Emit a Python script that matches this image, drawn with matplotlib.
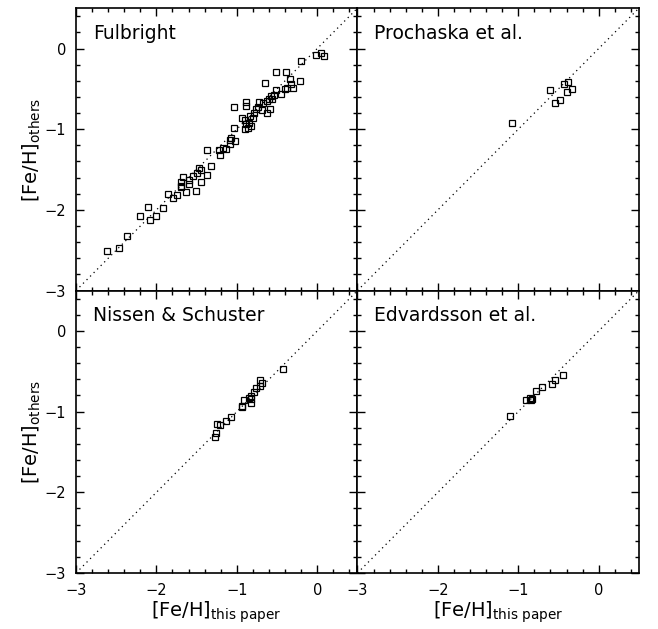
import matplotlib
matplotlib.use("Agg")
import matplotlib.pyplot as plt
import numpy as np
from matplotlib.ticker import MultipleLocator

# Fulbright
ful_x = [-2.61, -2.47, -2.37, -2.21, -2.10, -2.08, -2.01, -1.92, -1.86, -1.79,
         -1.74, -1.69, -1.67, -1.69, -1.69, -1.63, -1.60, -1.59, -1.54, -1.51,
         -1.49, -1.47, -1.45, -1.44, -1.37, -1.32, -1.37, -1.22, -1.21, -1.17,
         -1.14, -1.09, -1.07, -1.08, -1.02, -1.04, -1.03, -0.93, -0.88, -0.88,
         -0.90, -0.89, -0.90, -0.86, -0.85, -0.83, -0.84, -0.80, -0.79, -0.76,
         -0.74, -0.73, -0.69, -0.68, -0.65, -0.63, -0.62, -0.59, -0.60, -0.58,
         -0.56, -0.54, -0.51, -0.51, -0.45, -0.39, -0.40, -0.37, -0.34, -0.33,
         -0.30, -0.21, -0.20, -0.02, 0.05, 0.08]
ful_y = [-2.51, -2.47, -2.32, -2.08, -1.96, -2.13, -2.08, -1.98, -1.80, -1.85,
         -1.81, -1.70, -1.59, -1.65, -1.71, -1.78, -1.63, -1.68, -1.58, -1.76,
         -1.54, -1.48, -1.51, -1.66, -1.57, -1.46, -1.26, -1.26, -1.32, -1.23,
         -1.25, -1.13, -1.11, -1.18, -1.14, -0.98, -0.72, -0.86, -0.66, -0.71,
         -0.89, -0.94, -1.00, -0.98, -0.92, -0.96, -0.84, -0.86, -0.80, -0.75,
         -0.72, -0.66, -0.76, -0.68, -0.43, -0.80, -0.65, -0.75, -0.63, -0.59,
         -0.63, -0.58, -0.29, -0.52, -0.56, -0.29, -0.50, -0.49, -0.38, -0.44,
         -0.49, -0.40, -0.16, -0.08, -0.05, -0.09]

# Prochaska et al.
pro_x = [-1.08, -0.60, -0.43, -0.38, -0.33, -0.39, -0.54, -0.48]
pro_y = [-0.92, -0.52, -0.44, -0.42, -0.50, -0.54, -0.67, -0.64]

# Nissen & Schuster
nis_x = [-0.42, -0.71, -0.69, -0.71, -0.76, -0.79, -0.83, -0.83, -0.85, -0.91,
         -0.82, -0.93, -0.94, -1.07, -1.14, -1.21, -1.25, -1.26, -1.27]
nis_y = [-0.47, -0.61, -0.65, -0.68, -0.71, -0.76, -0.81, -0.84, -0.83, -0.85,
         -0.89, -0.93, -0.94, -1.07, -1.12, -1.17, -1.15, -1.27, -1.31]

# Edvardsson et al.
edv_x = [-1.10, -0.91, -0.85, -0.83, -0.84, -0.78, -0.71, -0.58, -0.54, -0.45]
edv_y = [-1.05, -0.85, -0.83, -0.84, -0.85, -0.74, -0.70, -0.66, -0.61, -0.54]

panels = [("Fulbright", ful_x, ful_y),
          ("Prochaska et al.", pro_x, pro_y),
          ("Nissen & Schuster", nis_x, nis_y),
          ("Edvardsson et al.", edv_x, edv_y)]

fig, axes = plt.subplots(2, 2, figsize=(6.58, 6.29), dpi=100, sharex=True, sharey=True)
fig.subplots_adjust(left=0.1155, right=0.971, bottom=0.089, top=0.987, wspace=0, hspace=0)

line = np.array([-3, 0.5])
for ax, (name, xs, ys) in zip(axes.flat, panels):
    ax.plot(line, line, color="black", linestyle=(0, (1, 3)), linewidth=0.9)
    ax.plot(xs, ys, linestyle="none", marker="s", markersize=5,
            markerfacecolor="none", markeredgecolor="black", markeredgewidth=0.9)
    ax.text(0.06, 0.945, name, transform=ax.transAxes, ha="left", va="top", fontsize=13.5)
    ax.set_xlim(-3, 0.5)
    ax.set_ylim(-3, 0.5)
    ax.xaxis.set_major_locator(MultipleLocator(1))
    ax.xaxis.set_minor_locator(MultipleLocator(0.2))
    ax.yaxis.set_major_locator(MultipleLocator(1))
    ax.yaxis.set_minor_locator(MultipleLocator(0.2))
    ax.tick_params(which="both", direction="in", top=True, right=True, labelsize=10.5, width=1)
    ax.tick_params(which="major", length=6, pad=7)
    ax.tick_params(which="minor", length=3)
    for s in ax.spines.values():
        s.set_linewidth(1.2)

xlab = r"$[\mathrm{Fe/H}]_{\mathrm{this\ paper}}$"
ylab = r"$[\mathrm{Fe/H}]_{\mathrm{others}}$"
for ax in axes[1]:
    ax.set_xlabel(xlab, fontsize=14, labelpad=1)
for ax in axes[:, 0]:
    ax.set_ylabel(ylab, fontsize=14, labelpad=1)

fig.savefig("out.png", dpi=100)
